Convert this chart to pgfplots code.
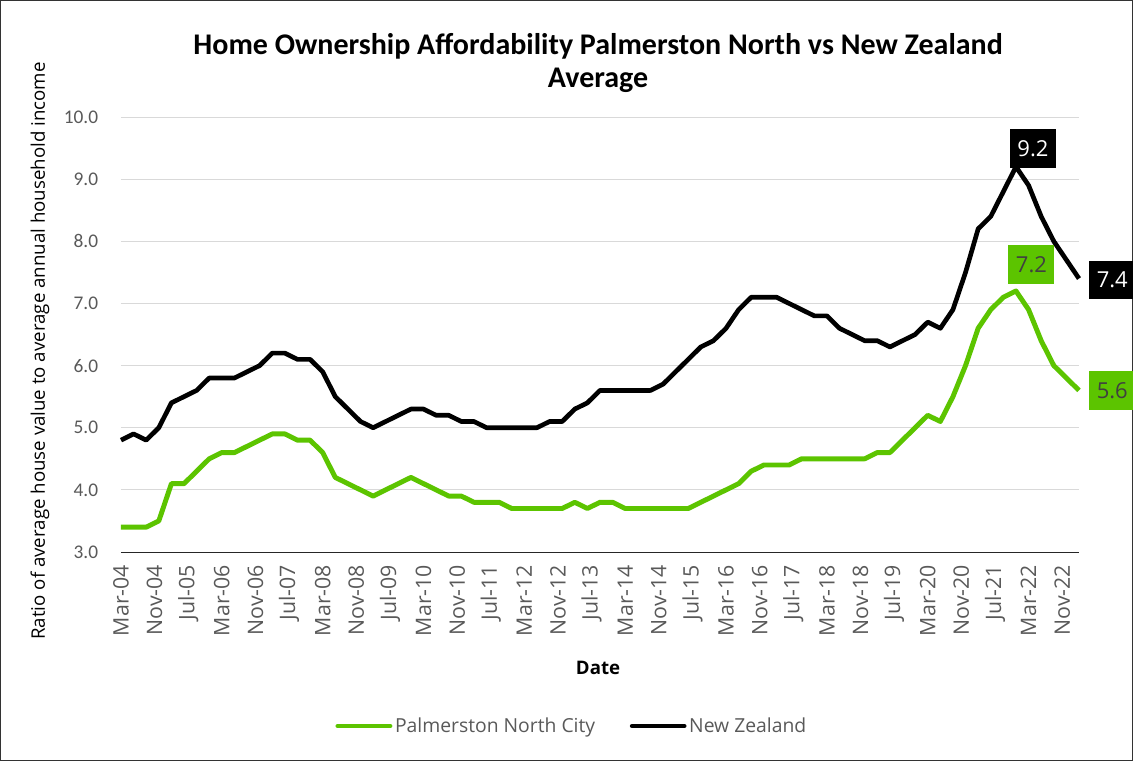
\documentclass[border=0pt]{standalone}
\usepackage{fontspec}
\usepackage{pgfplots}
\usepackage{pgfplotstable}
\pgfplotsset{compat=1.18}
\setmainfont{Carlito}
\newfontfamily\opensans{Open Sans}
\definecolor{pngreen}{RGB}{92,196,0}
\definecolor{txtgrey}{RGB}{89,89,89}
\definecolor{gridgrey}{RGB}{217,217,217}
\definecolor{lbltext}{RGB}{64,64,64}
\newcommand\titlefont{\fontsize{22.5pt}{25pt}\selectfont\bfseries}
\newcommand\ytickfont{\fontsize{14.5pt}{16pt}\selectfont}
\newcommand\xtickfont{\opensans\fontsize{16pt}{18pt}\selectfont}
\newcommand\ylabfont{\opensans\fontsize{14pt}{16pt}\selectfont}
\newcommand\xlabfont{\opensans\bfseries\fontsize{14pt}{16pt}\selectfont}
\newcommand\legfont{\opensans\fontsize{14.5pt}{17pt}\selectfont}
\newcommand\lblfont{\opensans\fontsize{16.5pt}{18pt}\selectfont}

\pgfplotstableread{
m pn nz
0 3.4 4.8
3 3.4 4.9
6 3.4 4.8
9 3.5 5.0
12 4.1 5.4
15 4.1 5.5
18 4.3 5.6
21 4.5 5.8
24 4.6 5.8
27 4.6 5.8
30 4.7 5.9
33 4.8 6.0
36 4.9 6.2
39 4.9 6.2
42 4.8 6.1
45 4.8 6.1
48 4.6 5.9
51 4.2 5.5
54 4.1 5.3
57 4.0 5.1
60 3.9 5.0
63 4.0 5.1
66 4.1 5.2
69 4.2 5.3
72 4.1 5.3
75 4.0 5.2
78 3.9 5.2
81 3.9 5.1
84 3.8 5.1
87 3.8 5.0
90 3.8 5.0
93 3.7 5.0
96 3.7 5.0
99 3.7 5.0
102 3.7 5.1
105 3.7 5.1
108 3.8 5.3
111 3.7 5.4
114 3.8 5.6
117 3.8 5.6
120 3.7 5.6
123 3.7 5.6
126 3.7 5.6
129 3.7 5.7
132 3.7 5.9
135 3.7 6.1
138 3.8 6.3
141 3.9 6.4
144 4.0 6.6
147 4.1 6.9
150 4.3 7.1
153 4.4 7.1
156 4.4 7.1
159 4.4 7.0
162 4.5 6.9
165 4.5 6.8
168 4.5 6.8
171 4.5 6.6
174 4.5 6.5
177 4.5 6.4
180 4.6 6.4
183 4.6 6.3
186 4.8 6.4
189 5.0 6.5
192 5.2 6.7
195 5.1 6.6
198 5.5 6.9
201 6.0 7.5
204 6.6 8.2
207 6.9 8.4
210 7.1 8.8
213 7.2 9.2
216 6.9 8.9
219 6.4 8.4
222 6.0 8.0
225 5.8 7.7
228 5.6 7.4
}\datatable

\begin{document}
\begin{tikzpicture}
\useasboundingbox (-90.75pt,-156.75pt) rectangle (759pt,414pt);
\draw[black!80, line width=0.75pt] (-90.375pt,-156.375pt) rectangle (758.625pt,413.625pt);
\begin{axis}[
  at={(0,0)}, anchor=south west,
  scale only axis, width=718.5pt, height=326.25pt,
  xmin=0, xmax=228, ymin=3, ymax=10,
  clip=false,
  axis x line*=bottom, axis y line*=left,
  y axis line style={draw=none},
  x axis line style={draw=black!85, line width=0.75pt},
  major tick length=0pt,
  ytick={3,4,...,10},
  xtick={0,8,...,224},
  xticklabels={Mar-04,Nov-04,Jul-05,Mar-06,Nov-06,Jul-07,Mar-08,Nov-08,Jul-09,Mar-10,Nov-10,Jul-11,Mar-12,Nov-12,Jul-13,Mar-14,Nov-14,Jul-15,Mar-16,Nov-16,Jul-17,Mar-18,Nov-18,Jul-19,Mar-20,Nov-20,Jul-21,Mar-22,Nov-22},
  ymajorgrids,
  grid style={draw=gridgrey, line width=0.75pt},
  /pgf/number format/assume math mode=true,
  yticklabel style={font=\ytickfont, text=txtgrey, anchor=east, inner sep=0pt, xshift=-17pt,
    /pgf/number format/fixed, /pgf/number format/fixed zerofill, /pgf/number format/precision=1},
  xticklabel style={font=\xtickfont, text=txtgrey, yshift=-9.5pt, rotate=90, anchor=east, inner sep=0pt},
  title={Home Ownership Affordability Palmerston North vs New Zealand\\Average},
  title style={font=\titlefont, align=center, at={(axis description cs:0.498,1.106)}, anchor=center},
  xlabel={Date},
  xlabel style={font=\xlabfont, at={(axis description cs:0.498,-0.2667)}, anchor=center},
  ylabel={Ratio of average house value to average annual household income},
  ylabel style={font=\ylabfont, at={(axis description cs:-0.0846,0.462)}, anchor=center, rotate=0},
  legend style={at={(axis description cs:0.471,-0.40)}, anchor=center, draw=none, fill=none,
    font=\legfont, text=txtgrey, legend columns=2, inner sep=0pt,
    /tikz/every even column/.append style={column sep=24pt}},
  legend cell align=left,
  legend image code/.code={\draw[#1, line cap=round] (0pt,0pt) -- (39pt,0pt);},
]
\addplot[pngreen, line width=3.7pt, line join=round, mark=none] table[x=m, y=pn] {\datatable};
\addlegendentry{Palmerston North City}
\addplot[black, line width=3.5pt, line join=round, mark=none] table[x=m, y=nz] {\datatable};
\addlegendentry{New Zealand}

\addplot[forget plot, draw=none, mark=none, point meta=y,
  nodes near coords={\pgfmathprintnumber[fixed,fixed zerofill,precision=1]{\pgfplotspointmeta}},
  nodes near coords style={fill=black, text=white, font=\lblfont, inner sep=0pt,
    minimum width=34.5pt, minimum height=29pt, anchor=south, xshift=12.75pt, yshift=-1pt}]
  coordinates {(213,9.2)};
\addplot[forget plot, draw=none, mark=none, point meta=y,
  nodes near coords={\pgfmathprintnumber[fixed,fixed zerofill,precision=1]{\pgfplotspointmeta}},
  nodes near coords style={fill=black, text=white, font=\lblfont, inner sep=0pt,
    minimum width=34.5pt, minimum height=29pt, anchor=west, xshift=7.5pt, yshift=-1pt}]
  coordinates {(228,7.4)};
\addplot[forget plot, draw=none, mark=none, point meta=y,
  nodes near coords={\pgfmathprintnumber[fixed,fixed zerofill,precision=1]{\pgfplotspointmeta}},
  nodes near coords style={fill=pngreen, text=lbltext, font=\lblfont, inner sep=0pt,
    minimum width=34.5pt, minimum height=29pt, anchor=south, xshift=11.6pt, yshift=5.25pt}]
  coordinates {(213,7.2)};
\addplot[forget plot, draw=none, mark=none, point meta=y,
  nodes near coords={\pgfmathprintnumber[fixed,fixed zerofill,precision=1]{\pgfplotspointmeta}},
  nodes near coords style={fill=pngreen, text=lbltext, font=\lblfont, inner sep=0pt,
    minimum width=34.5pt, minimum height=29pt, anchor=west, xshift=7.5pt}]
  coordinates {(228,5.6)};
\end{axis}
\end{tikzpicture}
\end{document}
